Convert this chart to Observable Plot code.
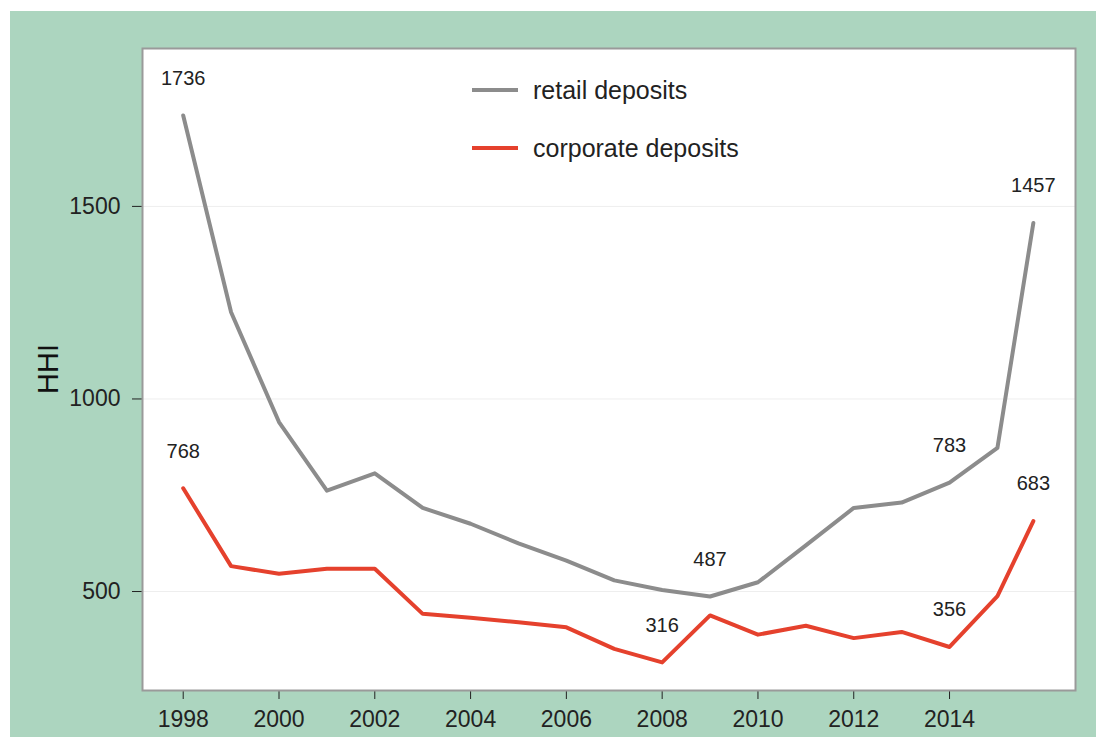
<!DOCTYPE html>
<html>
<head>
<meta charset="utf-8">
<script src="https://cdn.jsdelivr.net/npm/d3@7"></script>
<script src="https://cdn.jsdelivr.net/npm/@observablehq/plot@0.6"></script>
<style>
  html, body { margin: 0; padding: 0; background: #ffffff; }
  #wrap { position: relative; width: 1096px; height: 737px; overflow: hidden; font-family: "Liberation Sans", Arial, sans-serif; }
  #bg { position: absolute; left: 10px; top: 11px; right: 0; bottom: 0; background: #acd5bf; }
  #chart { position: absolute; left: 0; top: 0; }
  .leg { position: absolute; display: flex; align-items: center; font-size: 25px; line-height: 28px; color: #222; white-space: nowrap; }
  .leg .sw { width: 46px; height: 4px; margin-right: 15px; }
  #ylab { position: absolute; left: 48px; top: 369px; transform: translate(-50%, -50%) rotate(-90deg); font-size: 29px; color: #111; white-space: nowrap; }
</style>
</head>
<body>
<div id="wrap">
  <div id="bg"></div>
  <div id="chart"></div>
  <div class="leg" style="left:472px; top:76px;"><span class="sw" style="background:#8c8c8c"></span><span id="leg1"></span></div>
  <div class="leg" style="left:472px; top:134px;"><span class="sw" style="background:#e5412d"></span><span id="leg2"></span></div>
  <div id="ylab"></div>
</div>
<script>
// ---- data ----
const years = [1998, 1999, 2000, 2001, 2002, 2003, 2004, 2005, 2006, 2007, 2008, 2009, 2010, 2011, 2012, 2013, 2014, 2015, 2015.75];
const retail = [1736, 1225, 940, 762, 807, 717, 676, 625, 580, 529, 504, 487, 524, 620, 717, 731, 783, 873, 1457];
const corporate = [768, 566, 546, 559, 559, 442, 432, 420, 407, 351, 316, 438, 388, 411, 379, 395, 356, 488, 683];
const retailLabelYears = [1998, 2009, 2014, 2015.75];
const corporateLabelYears = [1998, 2008, 2014, 2015.75];
const xTicks = [1998, 2000, 2002, 2004, 2006, 2008, 2010, 2012, 2014];
const yTicks = [500, 1000, 1500];
const seriesNames = ["retail deposits", "corporate deposits"];
const yLabel = "HHI";

document.getElementById("leg1").textContent = seriesNames[0];
document.getElementById("leg2").textContent = seriesNames[1];
document.getElementById("ylab").textContent = yLabel;

const retailData = years.map((y, i) => ({year: y, value: retail[i]}));
const corpData = years.map((y, i) => ({year: y, value: corporate[i]}));
const labelData = [
  ...retailData.filter(d => retailLabelYears.includes(d.year)),
  ...corpData.filter(d => corporateLabelYears.includes(d.year))
];

const chart = Plot.plot({
  width: 1096,
  height: 737,
  marginLeft: 142,
  marginRight: 21,
  marginTop: 48,
  marginBottom: 47,
  style: {background: "transparent", fontFamily: "Liberation Sans, Arial, sans-serif", fontSize: "23px", color: "#222", overflow: "visible"},
  x: {domain: [1997.15, 2016.63]},
  y: {domain: [243, 1910]},
  marks: [
    Plot.frame({fill: "white"}),
    Plot.gridY(yTicks, {stroke: "#eeeeee", strokeOpacity: 1}),
    Plot.axisX({ticks: xTicks, tickFormat: d => String(d), tickSize: 9, tickPadding: 11, label: null, fontSize: 23}),
    Plot.axisY({ticks: yTicks, tickFormat: d => String(d), tickSize: 10, tickPadding: 12, label: null, fontSize: 23}),
    Plot.line(retailData, {x: "year", y: "value", stroke: "#8c8c8c", strokeWidth: 4}),
    Plot.line(corpData, {x: "year", y: "value", stroke: "#e5412d", strokeWidth: 4}),
    Plot.text(labelData, {x: "year", y: "value", text: d => String(d.value), dy: -37, fontSize: 20, fill: "#222"}),
    Plot.frame({stroke: "#9a9a9a", strokeWidth: 2})
  ]
});
document.getElementById("chart").appendChild(chart);
</script>
</body>
</html>
